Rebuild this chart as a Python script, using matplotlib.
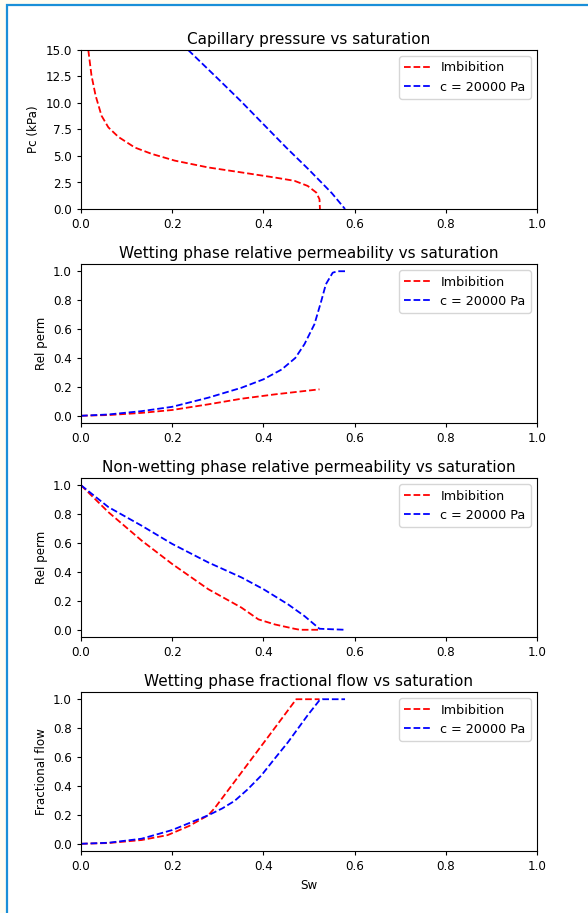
import matplotlib
matplotlib.use('Agg')
import matplotlib.pyplot as plt
from matplotlib.patches import Rectangle

# capillary pressure (kPa)
pc_sw_imb = [0.016, 0.023, 0.032, 0.045, 0.060, 0.082, 0.118, 0.155, 0.206, 0.279, 0.352, 0.425, 0.468, 0.497, 0.516, 0.523, 0.524]
pc_imb = [15.0, 12.6, 10.7, 8.8, 7.7, 6.8, 5.8, 5.2, 4.56, 3.92, 3.45, 2.97, 2.66, 2.18, 1.55, 0.92, 0.0]
pc_sw_c = [0.235, 0.30, 0.35, 0.40, 0.45, 0.50, 0.55, 0.579]
pc_c = [15.0, 12.3, 10.2, 8.0, 5.8, 3.7, 1.5, 0.0]

# wetting phase rel perm
krw_sw_imb = [0.0, 0.06, 0.133, 0.2, 0.279, 0.352, 0.425, 0.523]
krw_imb = [0.0, 0.005, 0.02, 0.04, 0.079, 0.118, 0.148, 0.183]
krw_sw_c = [0.0, 0.06, 0.133, 0.2, 0.279, 0.352, 0.4, 0.44, 0.47, 0.49, 0.512, 0.527, 0.537, 0.552, 0.563, 0.579]
krw_c = [0.0, 0.009, 0.032, 0.062, 0.125, 0.194, 0.252, 0.32, 0.40, 0.495, 0.634, 0.795, 0.91, 0.99, 1.0, 1.0]

# non-wetting phase rel perm
krn_sw_imb = [0.0, 0.06, 0.133, 0.2, 0.279, 0.352, 0.389, 0.425, 0.468, 0.48, 0.523]
krn_imb = [1.0, 0.814, 0.617, 0.455, 0.281, 0.153, 0.072, 0.037, 0.007, 0.0, 0.0]
krn_sw_c = [0.0, 0.06, 0.133, 0.2, 0.279, 0.352, 0.4, 0.454, 0.49, 0.523, 0.579]
krn_c = [1.0, 0.849, 0.72, 0.594, 0.466, 0.362, 0.281, 0.176, 0.095, 0.007, 0.0]

# fractional flow
fw_sw_imb = [0.0, 0.06, 0.133, 0.19, 0.237, 0.279, 0.294, 0.352, 0.41, 0.472, 0.523]
fw_imb = [0.0, 0.005, 0.026, 0.06, 0.123, 0.197, 0.25, 0.494, 0.738, 1.0, 1.0]
fw_sw_c = [0.0, 0.06, 0.133, 0.2, 0.279, 0.31, 0.337, 0.365, 0.395, 0.425, 0.454, 0.497, 0.523, 0.53, 0.579]
fw_c = [0.0, 0.007, 0.035, 0.095, 0.197, 0.245, 0.297, 0.375, 0.471, 0.59, 0.703, 0.889, 0.993, 1.0, 1.0]

labels = ['Imbibition', 'c = 20000 Pa']
titles = ['Capillary pressure vs saturation',
          'Wetting phase relative permeability vs saturation',
          'Non-wetting phase relative permeability vs saturation',
          'Wetting phase fractional flow vs saturation']
ylabels = ['Pc (kPa)', 'Rel perm', 'Rel perm', 'Fractional flow']

W, H = 588, 913
fig = plt.figure(figsize=(W / 100, H / 100), dpi=100)

# notebook-like frame
fig.add_artist(Rectangle((0, 0), 1, 1, transform=fig.transFigure,
                         facecolor='#fffdf2', edgecolor='none', zorder=-10))
fig.add_artist(Rectangle((6.5 / W, -0.1), 1.2, 1.1 - 5.5 / H, transform=fig.transFigure,
                         facecolor='white', edgecolor='#1a8fd8', linewidth=1.6, zorder=-9))

series = [(pc_sw_imb, pc_imb, pc_sw_c, pc_c),
          (krw_sw_imb, krw_imb, krw_sw_c, krw_c),
          (krn_sw_imb, krn_imb, krn_sw_c, krn_c),
          (fw_sw_imb, fw_imb, fw_sw_c, fw_c)]

tops = [50, 264, 478, 692]
axh = 159
for i in range(4):
    ax = fig.add_axes([81 / W, 1 - (tops[i] + axh) / H, 456 / W, axh / H])
    x1, y1, x2, y2 = series[i]
    ax.plot(x1, y1, 'r--', lw=1.3, label=labels[0])
    ax.plot(x2, y2, 'b--', lw=1.3, label=labels[1])
    ax.set_xlim(0, 1.0)
    if i == 0:
        ax.set_ylim(0, 15)
    ax.set_title(titles[i], fontsize=11, pad=4)
    ax.set_ylabel(ylabels[i], fontsize=8.6)
    ax.tick_params(labelsize=8.6, length=3)
    ax.legend(loc='upper right', fontsize=9.2)
    if i == 3:
        ax.set_xlabel('Sw', fontsize=8.6)

fig.savefig('out.png', dpi=100)
